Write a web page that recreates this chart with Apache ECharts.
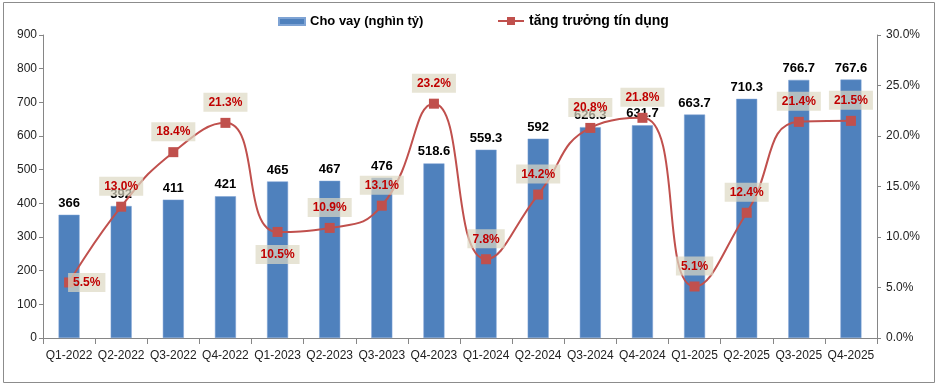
<!DOCTYPE html>
<html><head><meta charset="utf-8">
<script src="https://cdn.jsdelivr.net/npm/echarts@6/dist/echarts.min.js"></script>
<style>html,body{margin:0;padding:0;background:#fff}#c{width:940px;height:388px}</style>
</head><body><div id="c"></div>
<script>
const categories = ['Q1-2022','Q2-2022','Q3-2022','Q4-2022','Q1-2023','Q2-2023','Q3-2023','Q4-2023','Q1-2024','Q2-2024','Q3-2024','Q4-2024','Q1-2025','Q2-2025','Q3-2025','Q4-2025'];
const loans = [366, 392, 411, 421, 465, 467, 476, 518.6, 559.3, 592, 626.3, 631.7, 663.7, 710.3, 766.7, 767.6];
const growth = [5.5, 13.0, 18.4, 21.3, 10.5, 10.9, 13.1, 23.2, 7.8, 14.2, 20.8, 21.8, 5.1, 12.4, 21.4, 21.5];
const leftTicks = {min: 0, max: 900, interval: 100};
const rightTicks = {min: 0, max: 30, interval: 5};

const FONT = 'Liberation Sans, Arial, sans-serif';
const labelPlacement = {0: {position: 'right', distance: -6}, 4: {position: 'bottom', distance: 8}};
const chart = echarts.init(document.getElementById('c'));
chart.setOption({
  animation: false,
  textStyle: {fontFamily: FONT},
  graphic: [{type: 'rect', shape: {x: 3.5, y: 2.5, width: 931, height: 380}, style: {fill: 'none', stroke: '#8c8c8c', lineWidth: 1}, silent: true}],
  grid: {left: 43, right: 63, top: 35, bottom: 50},
  legend: [
    {data: [{name: 'Cho vay (nghìn tỷ)', icon: 'rect'}], left: 273, top: 10, itemWidth: 26, itemHeight: 7, itemGap: 4,
     textStyle: {fontFamily: FONT, fontSize: 13, fontWeight: 'bold', color: '#000'}},
    {data: ['tăng trưởng tín dụng'], left: 492, top: 9, itemWidth: 26, itemHeight: 10, itemGap: 4,
     textStyle: {fontFamily: FONT, fontSize: 14, fontWeight: 'bold', color: '#000'}}
  ],
  xAxis: {
    type: 'category', data: categories,
    axisLine: {lineStyle: {color: '#868686'}},
    axisTick: {show: true, length: 6, lineStyle: {color: '#868686'}},
    axisLabel: {color: '#222', fontSize: 12, margin: 12, interval: 0}
  },
  yAxis: [
    {type: 'value', min: leftTicks.min, max: leftTicks.max, interval: leftTicks.interval,
     axisLine: {show: true, lineStyle: {color: '#868686'}},
     axisTick: {show: true, length: 4, lineStyle: {color: '#868686'}},
     splitLine: {show: false},
     axisLabel: {color: '#222', fontSize: 12, margin: 6}},
    {type: 'value', min: rightTicks.min, max: rightTicks.max, interval: rightTicks.interval,
     axisLine: {show: true, lineStyle: {color: '#868686'}},
     axisTick: {show: true, length: 4, lineStyle: {color: '#868686'}},
     splitLine: {show: false},
     axisLabel: {color: '#222', fontSize: 12, margin: 9, formatter: v => v.toFixed(1) + '%'}}
  ],
  series: [
    {name: 'Cho vay (nghìn tỷ)', type: 'bar', data: loans, barWidth: 21, yAxisIndex: 0,
     itemStyle: {color: '#4F81BD', borderColor: '#7ea3d4', borderWidth: 0.5},
     label: {show: true, position: 'top', distance: 5, color: '#000', fontWeight: 'bold', fontSize: 13, fontFamily: FONT},
     z: 2},
    {name: 'tăng trưởng tín dụng', type: 'line', yAxisIndex: 1, smooth: 0.5,
     data: growth.map((v, i) => ({value: v, label: labelPlacement[i]})),
     symbol: 'rect', symbolSize: 10,
     lineStyle: {color: '#C0504D', width: 2},
     itemStyle: {color: '#C0504D'},
     label: {show: true, position: 'top', distance: 6, color: '#C00000', fontWeight: 'bold', fontSize: 12, fontFamily: FONT,
       backgroundColor: 'rgba(221,217,195,0.7)', padding: [4, 5, 3, 5],
       formatter: p => p.value.toFixed(1) + '%'},
     z: 5}
  ]
});
</script></body></html>
